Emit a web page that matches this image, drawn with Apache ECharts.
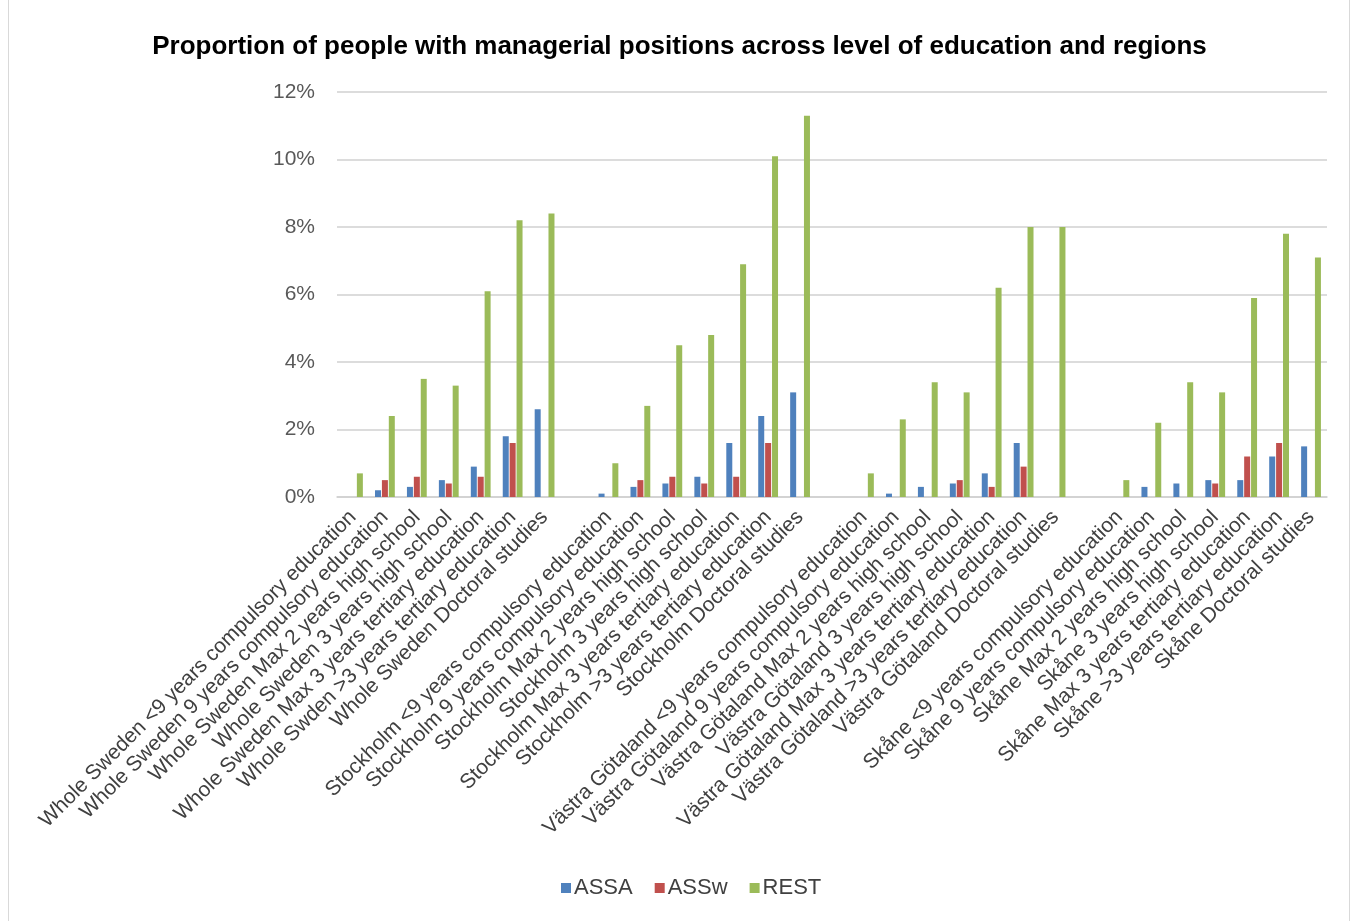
<!DOCTYPE html>
<html>
<head>
<meta charset="utf-8">
<script src="https://cdn.jsdelivr.net/npm/echarts@6/dist/echarts.min.js"></script>
<style>
html,body{margin:0;padding:0;background:#fff;}
#frame{position:absolute;left:8px;top:-2px;width:1342px;height:926px;border:1px solid #d9d9d9;box-sizing:border-box;}
#chart{position:absolute;left:0;top:0;width:1359px;height:921px;}
</style>
</head>
<body>
<div id="frame"></div>
<div id="chart"></div>
<script>
const categories = [
  "Whole Sweden <9 years compulsory education",
  "Whole Sweden 9 years compulsory education",
  "Whole Sweden Max 2 years high school",
  "Whole Sweden 3 years high school",
  "Whole Sweden Max 3 years tertiary education",
  "Whole Swden >3 years tertiary education",
  "Whole Sweden Doctoral studies",
  "",
  "Stockholm <9 years compulsory education",
  "Stockholm 9 years compulsory education",
  "Stockholm Max 2 years high school",
  "Stockholm 3 years high school",
  "Stockholm Max 3 years tertiary education",
  "Stockholm >3 years tertiary education",
  "Stockholm Doctoral studies",
  "",
  "Västra Götaland <9 years compulsory education",
  "Västra Götaland 9 years compulsory education",
  "Västra Götaland Max 2 years high school",
  "Västra Götaland 3 years high school",
  "Västra Götaland Max 3 years tertiary education",
  "Västra Götaland >3 years tertiary education",
  "Västra Götaland Doctoral studies",
  "",
  "Skåne <9 years compulsory education",
  "Skåne 9 years compulsory education",
  "Skåne Max 2 years high school",
  "Skåne 3 years high school",
  "Skåne Max 3 years tertiary education",
  "Skåne >3 years tertiary education",
  "Skåne Doctoral studies"
];
// values in percent
const assa = [0, 0.2, 0.3, 0.5, 0.9, 1.8, 2.6, null,
              0.1, 0.3, 0.4, 0.6, 1.6, 2.4, 3.1, null,
              0, 0.1, 0.3, 0.4, 0.7, 1.6, 0, null,
              0, 0.3, 0.4, 0.5, 0.5, 1.2, 1.5];
const assw = [0, 0.5, 0.6, 0.4, 0.6, 1.6, 0, null,
              0, 0.5, 0.6, 0.4, 0.6, 1.6, 0, null,
              0, 0, 0, 0.5, 0.3, 0.9, 0, null,
              0, 0, 0, 0.4, 1.2, 1.6, 0];
const rest = [0.7, 2.4, 3.5, 3.3, 6.1, 8.2, 8.4, null,
              1.0, 2.7, 4.5, 4.8, 6.9, 10.1, 11.3, null,
              0.7, 2.3, 3.4, 3.1, 6.2, 8.0, 8.0, null,
              0.5, 2.2, 3.4, 3.1, 5.9, 7.8, 7.1];
const seriesNames = ["ASSA", "ASSw", "REST"];
const yTicks = [0, 2, 4, 6, 8, 10, 12];

const chart = echarts.init(document.getElementById('chart'));
const font = "Liberation Sans, Arial, sans-serif";
const colors = ['#4F81BD', '#C0504D', '#9BBB59'];
chart.setOption({
  animation: false,
  color: colors,
  title: {
    text: "Proportion of people with managerial positions across level of education and regions",
    left: 'center', top: 29,
    textStyle: {fontFamily: font, fontWeight: 'bold', fontSize: 26, color: '#000'}
  },
  legend: {
    data: seriesNames, bottom: 17, left: 556,
    itemWidth: 10, itemHeight: 10, itemGap: 22, icon: 'rect',
    textStyle: {fontFamily: font, fontSize: 22, color: '#404040', padding: [0,0,0,-2]}
  },
  grid: {left: 337, right: 32, top: 92, bottom: 424, containLabel: false},
  xAxis: {
    type: 'category', data: categories,
    axisLine: {lineStyle: {color: '#d0d0d0', width: 1.5}},
    axisTick: {show: false},
    axisLabel: {rotate: 45, interval: 0, margin: 17, fontFamily: font, fontSize: 21, color: '#404040'}
  },
  yAxis: {
    type: 'value', min: yTicks[0], max: yTicks[yTicks.length-1], interval: 2,
    axisLine: {show: false}, axisTick: {show: false},
    splitLine: {lineStyle: {color: '#d0d0d0', width: 1.5}},
    axisLabel: {margin: 22, fontFamily: font, fontSize: 21, color: '#595959', formatter: v => v + '%'}
  },
  series: [
    {name: seriesNames[0], type: 'bar', data: assa, barWidth: 6, barGap: '15%'},
    {name: seriesNames[1], type: 'bar', data: assw, barWidth: 6, barGap: '15%'},
    {name: seriesNames[2], type: 'bar', data: rest, barWidth: 6, barGap: '15%'}
  ]
});
</script>
</body>
</html>
